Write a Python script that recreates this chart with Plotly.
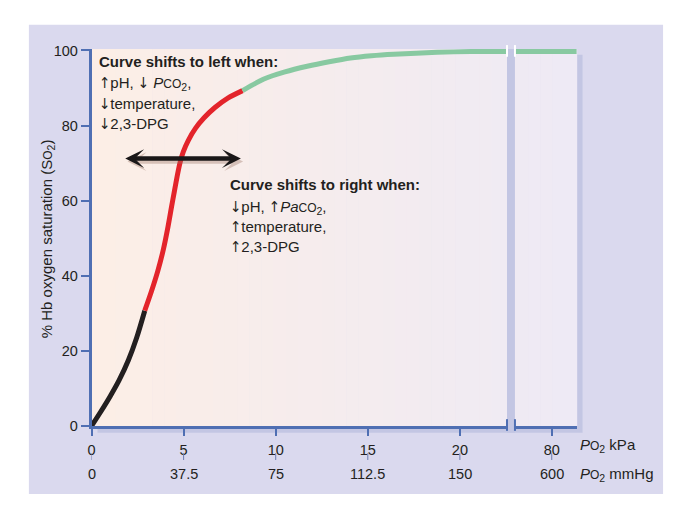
import plotly.graph_objects as go

# ---------------- data ----------------
BLACK_KPA = [0.0, 0.5, 1.0, 1.5, 2.0, 2.45, 2.89]
BLACK_SAT = [0.0, 3.8, 7.8, 12.2, 17.5, 23.5, 30.7]

RED_KPA = [2.89, 3.25, 3.6, 3.9, 4.15, 4.35, 4.5, 4.65, 4.8, 4.98, 5.25, 5.65, 6.1, 6.7, 7.4, 8.2]
RED_SAT = [30.7, 35.8, 41.3, 47.0, 53.0, 58.5, 62.5, 66.5, 70.0, 73.0, 76.0, 79.3, 82.0, 84.8, 87.3, 89.3]

GREEN_KPA = [8.2, 9.36, 10.5, 11.71, 12.9, 14.06, 15.2, 16.41, 18.76, 20.6, 22.6]
GREEN_SAT = [89.3, 92.4, 94.3, 95.8, 97.0, 98.0, 98.6, 99.0, 99.5, 99.7, 99.7]

HIGH_KPA = [77.9, 81.4]
HIGH_SAT = [99.7, 99.7]

KPA_TICKS = [0, 5, 10, 15, 20]
KPA_TICK_TEXT = ["0", "5", "10", "15", "20"]
MMHG_TICK_TEXT = ["0", "37.5", "75", "112.5", "150"]
HIGH_KPA_TICKS = [80]
HIGH_KPA_TICK_TEXT = ["80"]
HIGH_MMHG_TICK_TEXT = ["600"]
SAT_TICKS = [0, 20, 40, 60, 80, 100]

ARROW_KPA = [1.75, 8.11]
ARROW_SAT = 71.2

UP = "<span style='font-family:DejaVu Sans Condensed, DejaVu Sans;font-size:15px'>↑</span>"
DN = "<span style='font-family:DejaVu Sans Condensed, DejaVu Sans;font-size:15px'>↓</span>"
CO = "<span style='font-size:12px'>CO</span><sub>2</sub>"
LEFT_LINES = [
    "<b>Curve shifts to left when:</b>",
    UP + "pH, " + DN + " <i>P</i>" + CO + ",",
    DN + "temperature,",
    DN + "2,3-DPG",
]
RIGHT_LINES = [
    "<b>Curve shifts to right when:</b>",
    DN + "pH, " + UP + "<i>Pa</i>" + CO + ",",
    UP + "temperature,",
    UP + "2,3-DPG",
]
Y_TITLE = "% Hb oxygen saturation (S<span style='font-size:12px'>O</span><sub>2</sub>)"
KPA_TITLE = "<i>P</i><span style='font-size:12px'>O</span><sub>2</sub> kPa"
MMHG_TITLE = "<i>P</i><span style='font-size:12px'>O</span><sub>2</sub> mmHg"

# ---------------- styling ----------------
OFF = 8                      # default page body margin
FW, FH = 682 - 2 * OFF, 510 - 2 * OFF
FONT = "Liberation Sans, Arial, sans-serif"
TXT = "#231f20"
BLUE = "#4f6fb3"
LAV = "#dad9ee"
SHADOW = "#c3c6e3"


def px(x):
    return (x - OFF) / FW


def py(y):
    return 1 - (y - OFF) / FH


X_L, X_BREAK0, X_BREAK1, X_R = 88, 506, 514, 576
Y_T, Y_B = 44, 432
SCALE_X = 18.53  # px per kPa
SCALE_Y = 3.865  # px per %

fig = go.Figure()

for xs, ys, col in [(BLACK_KPA, BLACK_SAT, "#231f20"),
                    (RED_KPA, RED_SAT, "#e3242b"),
                    (GREEN_KPA, GREEN_SAT, "#88c9a1")]:
    fig.add_trace(go.Scatter(x=xs, y=ys, mode="lines", xaxis="x", yaxis="y",
                             line=dict(color=col, width=5, shape="spline", smoothing=0.8),
                             hoverinfo="skip", showlegend=False))
fig.add_trace(go.Scatter(x=HIGH_KPA, y=HIGH_SAT, mode="lines", xaxis="x2", yaxis="y",
                         line=dict(color="#88c9a1", width=5),
                         hoverinfo="skip", showlegend=False))

shapes = []
# lavender panel
shapes.append(dict(type="rect", xref="paper", yref="paper", x0=px(25), x1=px(663),
                   y0=py(502), y1=py(19), fillcolor=LAV, line=dict(width=0), layer="below"))
# shadow
shapes.append(dict(type="rect", xref="paper", yref="paper", x0=px(X_L + 6), x1=px(X_R + 6),
                   y0=py(Y_B + 7), y1=py(Y_T + 6), fillcolor=SHADOW, line=dict(width=0), layer="below"))
# gradient plot area
N = 40
c0 = (252, 238, 230)
c1 = (238, 234, 245)
for i in range(N):
    t = i / (N - 1)
    c = tuple(round(c0[k] + (c1[k] - c0[k]) * t) for k in range(3))
    xa = X_L + (X_R - X_L) * i / N
    xb = X_L + (X_R - X_L) * (i + 1) / N + 0.6
    shapes.append(dict(type="rect", xref="paper", yref="paper", x0=px(xa), x1=px(xb),
                       y0=py(Y_B), y1=py(Y_T), fillcolor="rgb(%d,%d,%d)" % c,
                       line=dict(width=0), layer="below"))
# break strip
shapes.append(dict(type="rect", xref="paper", yref="paper", x0=px(X_BREAK0), x1=px(X_BREAK1),
                   y0=py(Y_B + 7), y1=py(Y_T), fillcolor=SHADOW, line=dict(width=0), layer="below"))
# break marks on axis
for xb in (X_BREAK0, X_BREAK1):
    shapes.append(dict(type="line", xref="paper", yref="paper", x0=px(xb), x1=px(xb),
                       y0=py(Y_B - 7), y1=py(Y_B + 5), line=dict(color=BLUE, width=2)))
    shapes.append(dict(type="line", xref="paper", yref="paper", x0=px(xb), x1=px(xb),
                       y0=py(Y_T - 4), y1=py(Y_T + 8), line=dict(color="white", width=2)))
# connector ticks between kPa and mmHg rows
for v in KPA_TICKS:
    shapes.append(dict(type="line", xref="x", yref="paper", x0=v, x1=v,
                       y0=py(467), y1=py(460), line=dict(color="#6a7bb0", width=1)))
for v in HIGH_KPA_TICKS:
    shapes.append(dict(type="line", xref="x2", yref="paper", x0=v, x1=v,
                       y0=py(467), y1=py(460), line=dict(color="#6a7bb0", width=1)))

ann = []
# double arrow shadow + arrow
for dx, dy, col in [(0.12, -0.8, "rgba(150,110,95,0.35)"), (0, 0, "#1a1718")]:
    ann.append(dict(x=ARROW_KPA[1] + dx, y=ARROW_SAT + dy, ax=ARROW_KPA[0] + dx, ay=ARROW_SAT + dy,
                    xref="x", yref="y", axref="x", ayref="y", text="", showarrow=True,
                    arrowhead=3, startarrowhead=3, arrowside="end+start", arrowsize=0.7,
                    startarrowsize=0.7, arrowwidth=4.5, arrowcolor=col, standoff=0, startstandoff=0))

for txt, yy in zip(LEFT_LINES, [57, 80, 100.5, 121]):
    ann.append(dict(x=px(94), y=py(yy), xref="paper", yref="paper", text=txt, showarrow=False,
                    xanchor="left", yanchor="middle", font=dict(family=FONT, size=15, color=TXT)))
for txt, yy in zip(RIGHT_LINES, [183.3, 207.5, 226.7, 247.5]):
    ann.append(dict(x=px(225.5), y=py(yy), xref="paper", yref="paper", text=txt, showarrow=False,
                    xanchor="left", yanchor="middle", font=dict(family=FONT, size=15, color=TXT)))

# mmHg row
for v, t in zip(KPA_TICKS, MMHG_TICK_TEXT):
    ann.append(dict(x=v, y=py(481), xref="x", yref="paper", text=t, showarrow=False,
                    xanchor="center", yanchor="middle", font=dict(family=FONT, size=14.5, color=TXT)))
for v, t in zip(HIGH_KPA_TICKS, HIGH_MMHG_TICK_TEXT):
    ann.append(dict(x=v, y=py(481), xref="x2", yref="paper", text=t, showarrow=False,
                    xanchor="center", yanchor="middle", font=dict(family=FONT, size=14.5, color=TXT)))
# unit labels
ann.append(dict(x=px(577), y=py(452), xref="paper", yref="paper", text=KPA_TITLE, showarrow=False,
                xanchor="left", yanchor="middle", font=dict(family=FONT, size=15, color=TXT)))
ann.append(dict(x=px(577), y=py(482), xref="paper", yref="paper", text=MMHG_TITLE, showarrow=False,
                xanchor="left", yanchor="middle", font=dict(family=FONT, size=15, color=TXT)))
# y title
ann.append(dict(x=px(44), y=py(239), xref="paper", yref="paper", text=Y_TITLE, showarrow=False,
                textangle=-90, xanchor="center", yanchor="middle",
                font=dict(family=FONT, size=15, color=TXT)))

axis_common = dict(showline=True, linecolor=BLUE, linewidth=2.5, ticks="outside",
                   tickwidth=2, tickcolor=BLUE, showgrid=False, zeroline=False,
                   tickfont=dict(family=FONT, size=14.5, color=TXT), fixedrange=True)

fig.update_layout(
    width=FW, height=FH, margin=dict(l=0, r=0, t=0, b=0),
    paper_bgcolor="white", plot_bgcolor="rgba(0,0,0,0)",
    xaxis=dict(domain=[px(X_L), px(X_BREAK0)], range=[0, (X_BREAK0 - X_L) / SCALE_X],
               tickvals=KPA_TICKS, ticktext=KPA_TICK_TEXT, anchor="y", ticklen=7,
               ticklabelstandoff=2, **axis_common),
    xaxis2=dict(domain=[px(X_BREAK1), px(X_R)],
                range=[80 - 37 / SCALE_X, 80 + 25 / SCALE_X],
                tickvals=HIGH_KPA_TICKS, ticktext=HIGH_KPA_TICK_TEXT, anchor="y", ticklen=7,
                ticklabelstandoff=2, **axis_common),
    yaxis=dict(domain=[py(Y_B), py(Y_T)], range=[0, (Y_B - Y_T) / SCALE_Y],
               tickvals=SAT_TICKS, anchor="x", ticklen=8, **axis_common),
    shapes=shapes, annotations=ann, showlegend=False,
)

fig.write_html("out.html", config={"displayModeBar": False})
